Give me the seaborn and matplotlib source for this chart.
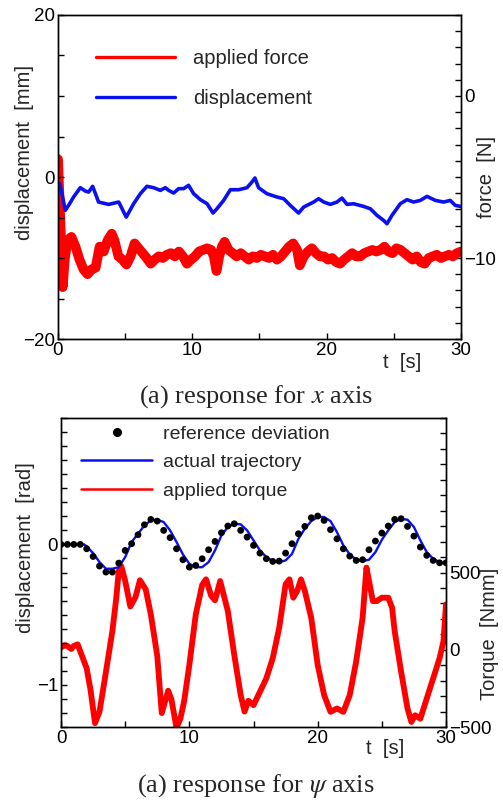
import matplotlib
matplotlib.use("Agg")
import matplotlib.pyplot as plt
import seaborn as sns
from matplotlib.lines import Line2D
from matplotlib.ticker import MultipleLocator, FixedLocator

# ---- (a) x axis: displacement [mm] and applied force [N]
t_disp = [0.12, 0.3, 0.54, 0.79, 1.16, 1.66, 2.03, 2.28, 2.58, 3.02, 3.77, 4.52, 5.08,
          5.63, 6.13, 6.62, 7.12, 7.62, 7.99, 8.24, 8.61, 8.98, 9.35, 9.72, 10.1, 10.6,
          11.1, 11.54, 11.83, 12.33, 12.83, 13.45, 14.07, 14.44, 14.66, 14.93, 15.55,
          16.3, 16.8, 17.29, 17.91, 18.29, 19.03, 19.4, 19.78, 20.27, 20.77, 21.14, 21.51,
          22.0, 22.75, 23.25, 23.75, 24.24, 24.49, 24.86, 25.48, 25.98, 26.47, 26.97,
          27.47, 28.09, 28.71, 29.2, 29.57, 29.95]
disp_mm = [-0.82, -2.06, -4.12, -3.50, -2.47, -1.32, -1.73, -1.86, -1.15, -3.09, -3.38,
           -3.09, -4.95, -3.30, -2.06, -1.15, -1.32, -1.65, -1.32, -1.65, -1.98, -1.44,
           -1.44, -1.03, -2.06, -2.80, -3.30, -4.45, -3.92, -2.89, -1.57, -1.57, -1.32,
           -0.62, -0.12, -1.32, -2.06, -2.47, -2.68, -3.50, -4.45, -3.71, -3.09, -2.68,
           -3.09, -3.38, -3.09, -2.60, -3.38, -3.30, -3.63, -3.92, -4.74, -5.36, -5.77,
           -4.74, -3.30, -2.80, -3.09, -2.89, -2.39, -2.89, -3.09, -2.89, -3.50, -3.63]

t_force = [0.0, 0.2, 0.35, 0.5, 0.7, 1.0, 1.3, 1.6, 1.9, 2.2, 2.5, 2.8, 3.1, 3.4, 3.7,
           4.0, 4.2, 4.5, 4.8, 5.1, 5.4, 5.7, 6.0, 6.3, 6.6, 6.9, 7.2, 7.5, 7.8, 8.1, 8.4,
           8.7, 9.0, 9.3, 9.6, 9.9, 10.2, 10.5, 10.8, 11.1, 11.4, 11.6, 11.8, 12.0, 12.2,
           12.4, 12.7, 13.0, 13.3, 13.6, 13.9, 14.2, 14.5, 14.8, 15.1, 15.4, 15.7, 16.0,
           16.3, 16.6, 16.9, 17.2, 17.5, 17.8, 18.0, 18.3, 18.6, 18.9, 19.2, 19.5, 19.8,
           20.1, 20.4, 20.7, 21.0, 21.3, 21.6, 21.9, 22.2, 22.5, 22.8, 23.1, 23.4, 23.7,
           24.0, 24.3, 24.6, 24.9, 25.2, 25.5, 25.8, 26.1, 26.4, 26.7, 27.0, 27.3, 27.6,
           27.9, 28.2, 28.5, 28.8, 29.1, 29.4, 29.7, 30.0]
force_n = [-3.9, -8.3, -11.8, -10.1, -8.9, -8.7, -9.3, -10.1, -10.7, -11.0, -10.7, -10.6,
           -9.3, -9.6, -8.9, -8.5, -8.9, -9.9, -10.1, -10.4, -9.9, -9.1, -9.4, -9.7, -10.0,
           -10.35, -10.1, -9.9, -10.0, -9.8, -9.7, -9.9, -9.6, -9.9, -10.35, -10.1, -9.9,
           -9.6, -9.5, -9.4, -9.5, -9.9, -10.8, -9.9, -9.3, -9.0, -9.5, -9.7, -9.9, -9.7,
           -9.9, -10.1, -9.9, -10.0, -9.8, -9.9, -10.0, -9.8, -10.1, -9.9, -9.6, -9.3,
           -9.1, -9.5, -10.45, -9.9, -9.6, -9.4, -9.7, -9.9, -9.9, -10.1, -10.0, -10.25,
           -10.35, -10.1, -9.9, -9.7, -9.9, -9.9, -9.7, -9.6, -9.5, -9.6, -9.5, -9.3, -9.6,
           -9.7, -9.4, -9.5, -9.7, -9.9, -10.1, -9.9, -10.25, -10.35, -10.0, -9.9, -9.8,
           -10.0, -9.9, -9.8, -9.9, -9.7, -9.6]

# ---- (a) psi axis: displacement [rad] and applied torque [Nmm]
t_ref = [0.0, 0.5, 1.0, 1.5, 2.0, 2.5, 3.0, 3.5, 4.0, 4.5, 5.0, 5.5, 6.0, 6.5, 7.0, 7.5,
         8.0, 8.5, 9.0, 9.5, 10.0, 10.5, 11.0, 11.5, 12.0, 12.5, 13.0, 13.5, 14.0, 14.5,
         15.0, 15.5, 16.0, 16.5, 17.0, 17.5, 18.0, 18.5, 19.0, 19.5, 20.0, 20.5, 21.0,
         21.5, 22.0, 22.5, 23.0, 23.5, 24.0, 24.5, 25.0, 25.5, 26.0, 26.5, 27.0, 27.5,
         28.0, 28.5, 29.0, 29.5, 30.0]
ref_dev = [0.0, 0.0, 0.0, 0.0, -0.031, -0.086, -0.154, -0.197, -0.197, -0.133, -0.043,
           0.005, 0.069, 0.140, 0.178, 0.166, 0.100, 0.048, -0.031, -0.109, -0.162, -0.150,
           -0.102, -0.038, 0.021, 0.083, 0.131, 0.147, 0.100, 0.052, -0.007, -0.062, -0.102,
           -0.121, -0.119, -0.062, 0.005, 0.076, 0.128, 0.190, 0.202, 0.171, 0.105, 0.040,
           -0.031, -0.083, -0.114, -0.109, -0.038, 0.024, 0.081, 0.131, 0.178, 0.183, 0.128,
           0.059, -0.019, -0.078, -0.114, -0.131, -0.131]

t_traj = [0.0, 1.8, 2.0, 2.5, 3.0, 3.5, 4.0, 4.5, 5.0, 5.5, 6.0, 6.5, 7.0, 7.5, 8.0, 8.5,
          9.0, 9.5, 10.0, 10.5, 11.0, 11.5, 12.0, 12.5, 13.0, 13.5, 14.0, 14.5, 15.0,
          15.5, 16.0, 16.5, 17.0, 17.5, 18.0, 18.5, 19.0, 19.5, 20.0, 20.5, 21.0, 21.5,
          22.0, 22.5, 23.0, 23.5, 24.0, 24.5, 25.0, 25.5, 26.0, 26.5, 27.0, 27.5, 28.0,
          28.5, 29.0, 29.5, 30.0]
traj_rad = [0.0, 0.0, -0.014, -0.062, -0.126, -0.173, -0.173, -0.162, -0.090, 0.017,
            0.076, 0.135, 0.171, 0.176, 0.159, 0.100, 0.017, -0.071, -0.138, -0.162,
            -0.162, -0.126, -0.043, 0.064, 0.124, 0.147, 0.143, 0.100, 0.029, -0.043,
            -0.090, -0.119, -0.126, -0.114, -0.067, 0.040, 0.112, 0.166, 0.195, 0.195,
            0.166, 0.088, -0.007, -0.071, -0.109, -0.119, -0.109, -0.055, 0.033, 0.100,
            0.159, 0.181, 0.176, 0.124, 0.029, -0.055, -0.102, -0.126, -0.138]

t_torque = [0.0, 0.3, 0.5, 0.8, 1.0, 1.3, 1.5, 2.0, 2.3, 2.65, 3.0, 3.45, 4.0, 4.3, 4.5,
            4.7, 5.0, 5.4, 5.8, 6.15, 6.6, 7.0, 7.5, 7.85, 8.35, 8.6, 9.0, 9.3, 9.6, 10.0,
            10.5, 11.0, 11.3, 11.7, 12.0, 12.4, 13.0, 13.5, 14.0, 14.3, 14.6, 15.0, 15.5,
            16.0, 16.5, 17.0, 17.5, 17.8, 18.1, 18.4, 18.7, 19.0, 19.5, 20.0, 20.5, 21.0,
            21.5, 22.0, 22.5, 23.0, 23.5, 23.8, 24.0, 24.3, 24.6, 25.0, 25.5, 25.8, 26.0,
            26.5, 27.0, 27.3, 27.6, 28.0, 28.5, 29.0, 29.5, 29.8, 30.0]
torque_nmm = [15, 30, 25, 5, 25, 35, -10, -120, -260, -475, -400, -170, 120, 330, 510,
              540, 446, 280, 340, 450, 391, 228, -40, -410, -265, -320, -505, -446, -330,
              -98, 228, 420, 456, 350, 320, 445, 250, -33, -293, -400, -330, -359, -272,
              -185, -54, 141, 424, 456, 337, 380, 456, 380, 206, -98, -293, -402, -380,
              -402, -293, -76, 206, 532, 446, 315, 315, 337, 337, 272, 120, -141, -380,
              -467, -424, -446, -315, -185, -54, 54, 293]

sns.set_theme(style="ticks")
plt.rcParams["font.family"] = ["Liberation Sans", "DejaVu Sans"]
plt.rcParams["mathtext.fontset"] = "stix"
plt.rcParams["axes.linewidth"] = 1.0
plt.rcParams["axes.edgecolor"] = "black"

RED = "#ff0000"
BLUE = "#0a10f0"
TICK = 13.5

fig = plt.figure(figsize=(5.03, 8.02), dpi=100)
fig.patch.set_facecolor("white")


def style_axis(a):
    a.tick_params(axis="both", which="both", direction="in", length=4.5, width=1.0,
                  labelsize=TICK, colors="black", pad=2)


# ================= top panel
ax = fig.add_axes([0.1153, 0.5773, 0.8012, 0.404])
ax2 = ax.twinx()

sns.lineplot(x=t_force, y=force_n, ax=ax2, color=RED, linewidth=7.0,
             estimator=None, sort=False)
sns.lineplot(x=t_disp, y=disp_mm, ax=ax, color=BLUE, linewidth=2.6,
             estimator=None, sort=False)
ax.set_zorder(ax2.get_zorder() + 1)
ax.patch.set_visible(False)

ax.set_xlim(0, 30)
ax.set_ylim(-20, 20)
ax2.set_ylim(-15, 5)
ax.xaxis.set_major_locator(MultipleLocator(10))
ax.xaxis.set_minor_locator(MultipleLocator(5))
ax.yaxis.set_major_locator(MultipleLocator(20))
ax.yaxis.set_minor_locator(MultipleLocator(5))
ax2.yaxis.set_major_locator(MultipleLocator(10))
ax2.yaxis.set_minor_locator(MultipleLocator(1))
style_axis(ax)
style_axis(ax2)

ax.set_ylabel("displacement  [mm]", fontsize=14.5)
ax.yaxis.set_label_coords(-0.082, 0.577)
ax.yaxis.label.set_verticalalignment("center")
ax2.set_ylabel("force  [N]", fontsize=14.5)
ax2.yaxis.set_label_coords(1.0645, 0.5)
ax2.yaxis.label.set_verticalalignment("center")
ax.set_xlabel("")
ax.text(0.854, -0.071, "t  [s]", transform=ax.transAxes, fontsize=14.5,
        ha="center", va="center")

handles = [Line2D([], [], color=RED, lw=2.4), Line2D([], [], color=BLUE, lw=2.4)]
ax.legend(handles, ["applied force", "displacement"], loc="upper left",
          bbox_to_anchor=(0.094, 0.895), frameon=False, fontsize=14.5,
          handlelength=3.93, handletextpad=0.9, labelspacing=1.05,
          borderpad=0, borderaxespad=0)

fig.text(0.509, 1 - 397 / 802, r"(a) response for $x$ axis", fontsize=19,
         family="Liberation Serif", ha="center", va="center")

# ================= bottom panel
bx = fig.add_axes([0.1213, 0.0935, 0.7654, 0.3853])
bx2 = bx.twinx()

sns.lineplot(x=t_torque, y=torque_nmm, ax=bx2, color=RED, linewidth=4.2,
             estimator=None, sort=False)
sns.lineplot(x=t_traj, y=traj_rad, ax=bx, color=BLUE, linewidth=1.7,
             estimator=None, sort=False)
sns.scatterplot(x=t_ref, y=ref_dev, ax=bx, color="black", s=24, edgecolor="none",
                zorder=3)
bx.set_zorder(bx2.get_zorder() + 1)
bx.patch.set_visible(False)

bx.set_xlim(0, 30)
bx.set_ylim(-1.3, 0.9)
bx2.set_ylim(-500, 1500)
bx.xaxis.set_major_locator(MultipleLocator(10))
bx.xaxis.set_minor_locator(MultipleLocator(5))
bx.yaxis.set_major_locator(MultipleLocator(1))
bx.yaxis.set_minor_locator(MultipleLocator(0.1))
bx2.yaxis.set_major_locator(FixedLocator([-500, 0, 500]))
bx2.yaxis.set_minor_locator(MultipleLocator(100))
style_axis(bx)
style_axis(bx2)

bx.set_ylabel("displacement  [rad]", fontsize=14.5)
bx.yaxis.set_label_coords(-0.0935, 0.579)
bx.yaxis.label.set_verticalalignment("center")
bx2.set_ylabel("Torque  [Nmm]", fontsize=14.5)
bx2.yaxis.set_label_coords(1.114, 0.30)
bx2.yaxis.label.set_verticalalignment("center")
bx.set_xlabel("")
bx.text(0.842, -0.068, "t  [s]", transform=bx.transAxes, fontsize=14.5,
        ha="center", va="center")

handles_b = [Line2D([], [], color="black", marker="o", ls="none", markersize=5.5),
             Line2D([], [], color=BLUE, lw=1.8), Line2D([], [], color=RED, lw=1.8)]
bx.legend(handles_b, ["reference deviation", "actual trajectory", "applied torque"],
          loc="upper left", bbox_to_anchor=(0.052, 0.977), frameon=False, fontsize=14,
          handlelength=3.66, handletextpad=0.57, labelspacing=0.56, numpoints=1,
          borderpad=0, borderaxespad=0)

fig.text(0.509, 1 - 786 / 802, r"(a) response for $\psi$ axis", fontsize=19,
         family="Liberation Serif", ha="center", va="center")

fig.savefig("out.png", dpi=100, facecolor="white")
